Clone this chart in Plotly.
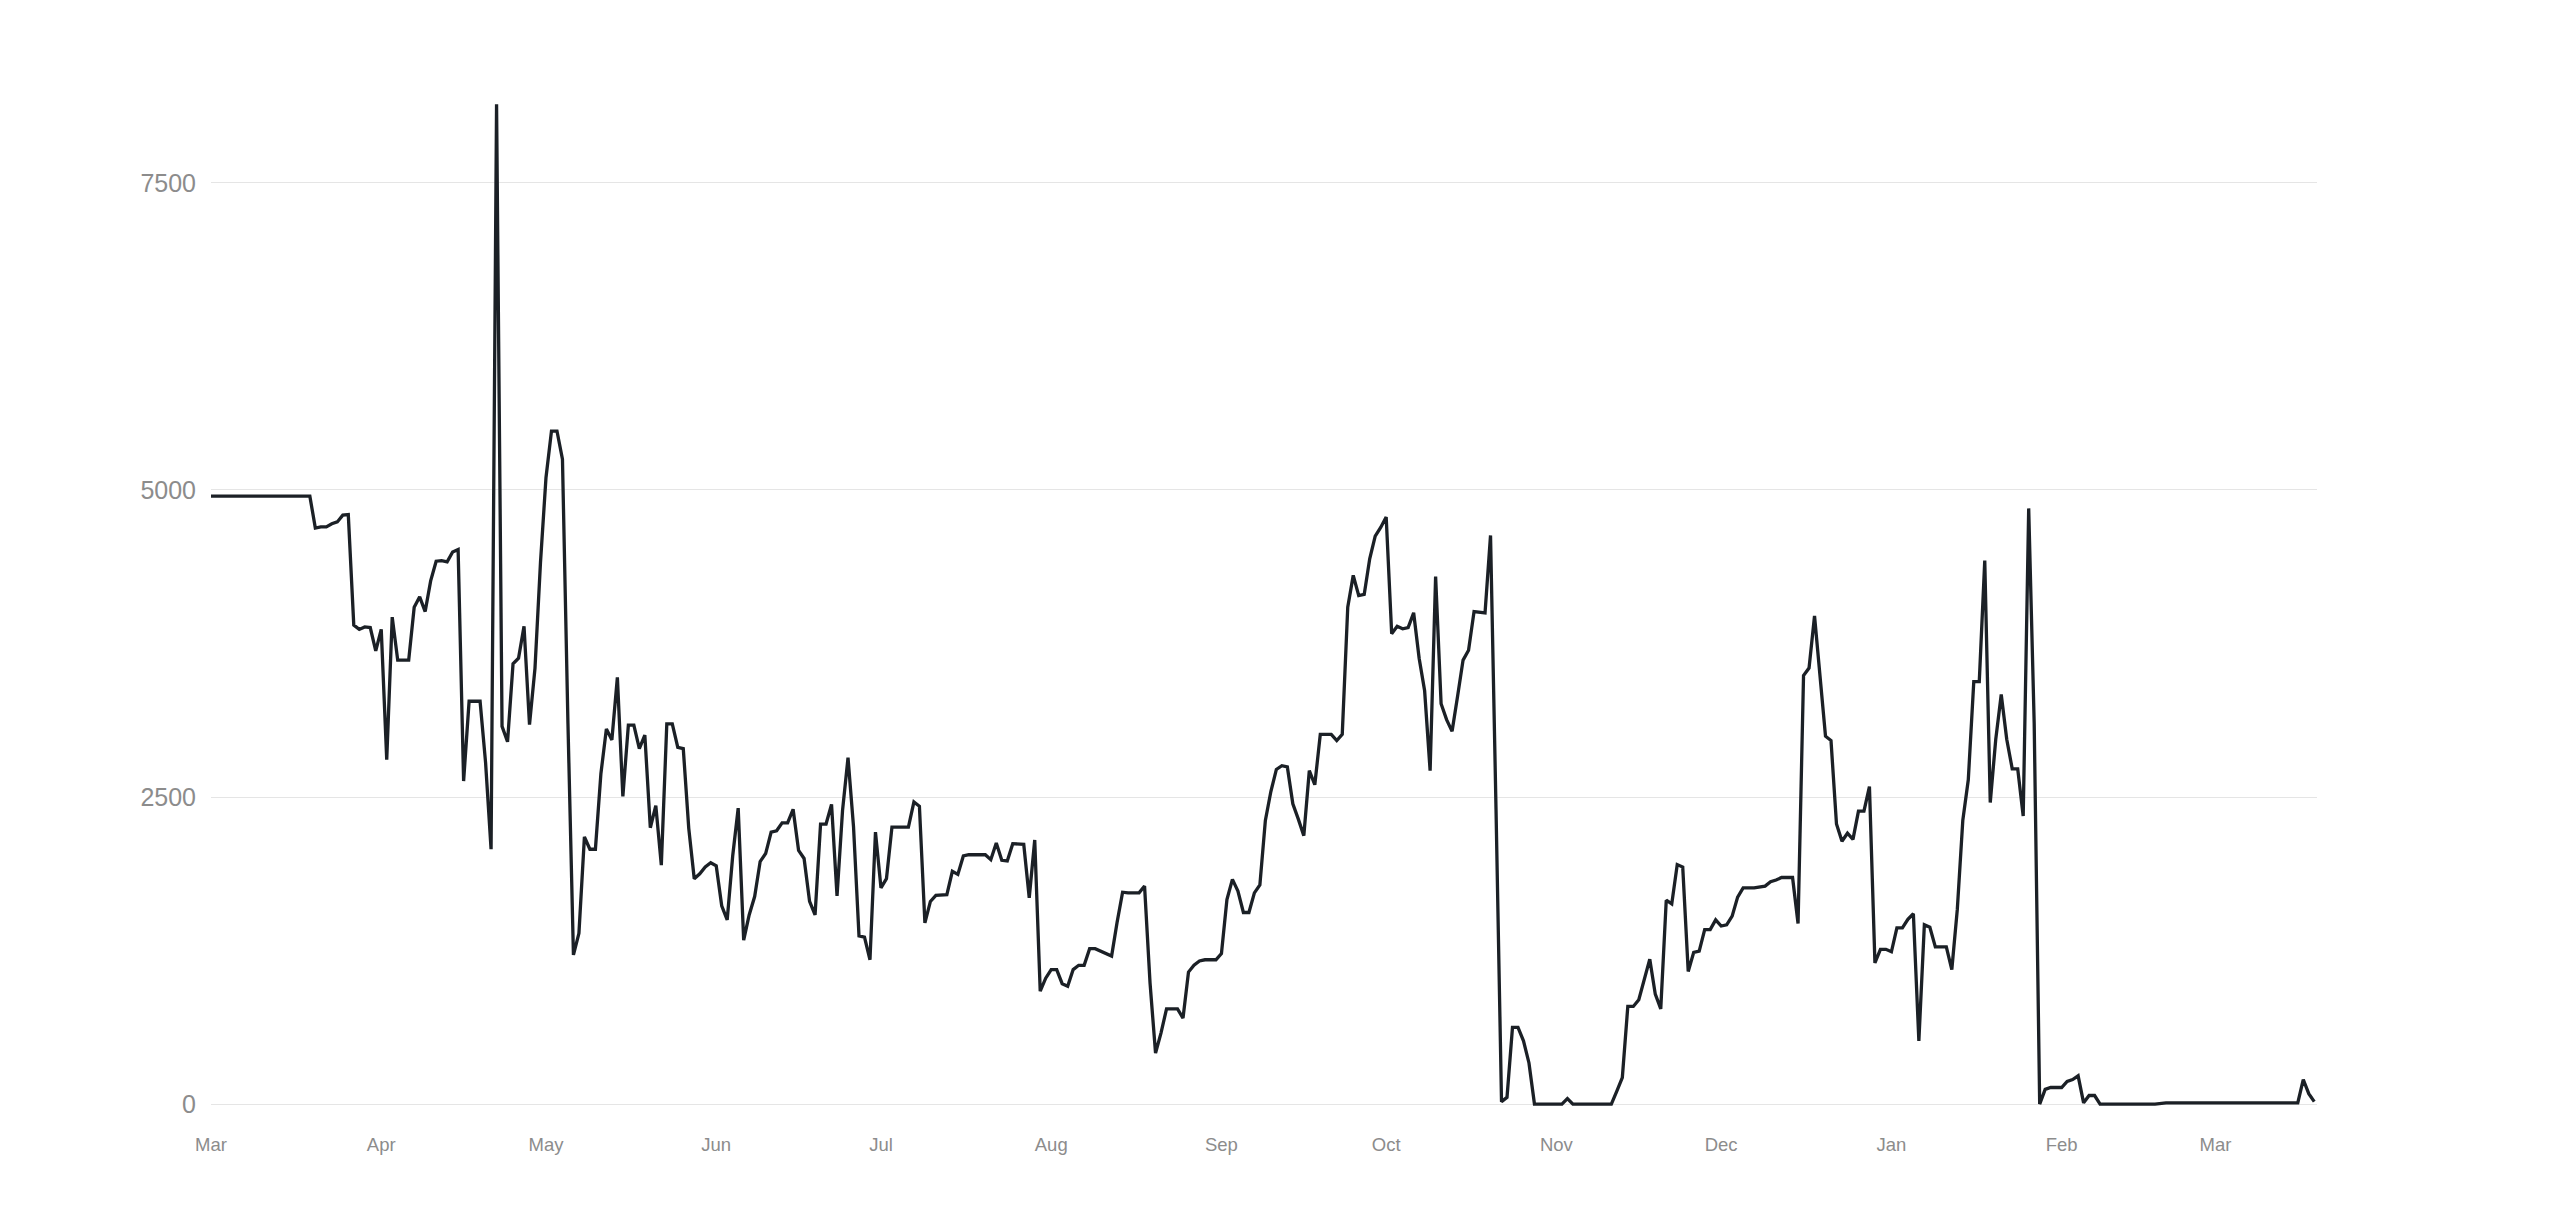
import pandas as pd
import plotly.graph_objects as go

START = "2022-03-01"

# day offset from START -> value (vertices)
days = [
    0, 18, 19, 20, 21, 22, 23, 24, 25, 26, 27, 28, 29, 30, 31, 32, 33, 34, 36, 37,
    38, 39, 40, 41, 42, 43, 44, 45, 46, 47, 49, 50, 51, 52, 53, 54, 55, 56, 57, 58,
    59, 60, 61, 62, 63, 64, 65, 66, 67, 68, 69, 70, 71, 72, 73, 74, 75, 76, 77, 78,
    79, 80, 81, 82, 83, 84, 85, 86, 87, 88, 89, 90, 91, 92, 93, 94, 95, 96, 97, 98,
    99, 100, 101, 102, 103, 104, 105, 106, 107, 108, 109, 110, 111, 112, 113, 114, 115, 116, 117, 118,
    119, 120, 121, 122, 123, 124, 126, 127, 128, 129, 130, 131, 132, 134, 135, 136, 137, 138, 139, 141,
    142, 143, 144, 145, 146, 148, 149, 150, 151, 152, 153, 154, 155, 156, 157, 158, 159, 160, 161, 162,
    164, 165, 166, 167, 169, 170, 171, 172, 173, 174, 176, 177, 178, 179, 180, 181, 183, 184, 185, 186,
    187, 188, 189, 190, 191, 192, 193, 194, 195, 196, 197, 198, 199, 200, 201, 202, 204, 205, 206, 207,
    208, 209, 210, 211, 212, 213, 214, 215, 216, 217, 218, 219, 220, 221, 222, 223, 224, 225, 226, 227,
    228, 229, 230, 232, 233, 234, 235, 236, 237, 238, 239, 240, 241, 246, 247, 248, 255, 256, 257, 258,
    259, 260, 261, 262, 263, 264, 265, 266, 267, 268, 269, 270, 271, 272, 273, 274, 275, 276, 277, 278,
    279, 281, 283, 284, 285, 286, 288, 289, 290, 291, 292, 293, 294, 295, 296, 297, 298, 299, 300, 301,
    302, 303, 304, 305, 306, 307, 308, 309, 310, 311, 312, 313, 314, 316, 317, 318, 319, 320, 321, 322,
    323, 324, 325, 326, 327, 328, 329, 330, 331, 332, 333, 334, 335, 337, 338, 339, 340, 341, 342, 343,
    344, 354, 356, 380, 381, 382, 383,
]
values = [
    4950, 4950, 4690, 4700, 4700, 4725, 4740, 4795, 4800, 3900, 3865, 3885, 3880, 3690, 3865, 2805, 3965, 3615, 3615, 4045,
    4130, 4010, 4260, 4420, 4425, 4415, 4495, 4515, 2630, 3280, 3280, 2780, 2075, 8140, 3075, 2950, 3585, 3630, 3890, 3090,
    3550, 4410, 5100, 5480, 5480, 5250, 3100, 1215, 1390, 2175, 2075, 2075, 2690, 3055, 2965, 3475, 2505, 3085, 3085, 2895,
    3005, 2250, 2430, 1945, 3095, 3095, 2905, 2895, 2245, 1835, 1875, 1930, 1965, 1940, 1615, 1500, 2020, 2410, 1335, 1540,
    1690, 1975, 2040, 2215, 2225, 2290, 2290, 2400, 2065, 2000, 1650, 1540, 2280, 2280, 2440, 1695, 2390, 2820, 2260, 1370,
    1360, 1175, 2215, 1760, 1835, 2255, 2255, 2255, 2460, 2425, 1475, 1650, 1700, 1705, 1895, 1870, 2020, 2030, 2030, 2030,
    1990, 2125, 1985, 1980, 2120, 2115, 1680, 2150, 920, 1025, 1095, 1095, 980, 960, 1095, 1130, 1130, 1265, 1265, 1245,
    1205, 1480, 1725, 1720, 1720, 1775, 985, 415, 580, 775, 775, 700, 1075, 1130, 1165, 1175, 1175, 1225, 1665, 1830,
    1735, 1560, 1560, 1720, 1785, 2310, 2545, 2725, 2755, 2745, 2445, 2320, 2185, 2715, 2600, 3010, 3010, 2960, 3010, 4045,
    4305, 4140, 4150, 4440, 4625, 4695, 4780, 3830, 3890, 3870, 3880, 4000, 3630, 3365, 2715, 4295, 3260, 3130, 3035, 3320,
    3615, 3695, 4010, 4000, 4630, 2400, 20, 55, 625, 625, 515, 335, 0, 0, 45, 0, 0, 105, 215, 795,
    795, 850, 1005, 1180, 895, 775, 1660, 1630, 1950, 1930, 1080, 1235, 1245, 1420, 1420, 1500, 1450, 1460, 1530, 1685,
    1760, 1760, 1775, 1810, 1825, 1845, 1845, 1470, 3490, 3550, 3975, 3490, 2995, 2960, 2280, 2140, 2205, 2155, 2385, 2385,
    2585, 1150, 1260, 1260, 1240, 1435, 1435, 1505, 1550, 515, 1460, 1440, 1280, 1280, 1095, 1585, 2310, 2640, 3440, 3440,
    4425, 2455, 2970, 3335, 2970, 2730, 2730, 2345, 4850, 3100, 0, 120, 135, 135, 185, 200, 230, 10, 70, 70,
    0, 0, 10, 10, 200, 85, 20,
]

y_ticks = [0, 2500, 5000, 7500]

dates = pd.Timestamp(START) + pd.to_timedelta(days, unit="D")

fig = go.Figure()
fig.add_trace(
    go.Scatter(
        x=dates,
        y=values,
        mode="lines",
        line=dict(color="#1b2026", width=3.3),
        hoverinfo="x+y",
    )
)

# page body keeps its default 8px margin, so size and margins allow for it
fig.update_layout(
    width=2544,
    height=1207,
    margin=dict(l=203, r=235, t=52, b=106),
    paper_bgcolor="white",
    plot_bgcolor="white",
    showlegend=False,
    font=dict(family="Liberation Sans, Arial, sans-serif", color="#8c8c8c"),
)

fig.update_xaxes(
    range=["2022-03-01", "2023-03-19 12:00"],
    tickformat="%b",
    dtick="M1",
    tick0="2022-03-01",
    showgrid=False,
    zeroline=False,
    showline=False,
    ticks="",
    tickfont=dict(size=18.5, color="#8c8c8c"),
    ticklabelstandoff=22,
)
fig.update_yaxes(
    range=[-40, 8501],
    tickvals=y_ticks,
    showgrid=True,
    gridcolor="#e5e5e5",
    gridwidth=1.2,
    zeroline=False,
    showline=False,
    ticks="",
    tickfont=dict(size=25, color="#8c8c8c"),
    ticklabelstandoff=14,
)

fig.write_html("out.html")
